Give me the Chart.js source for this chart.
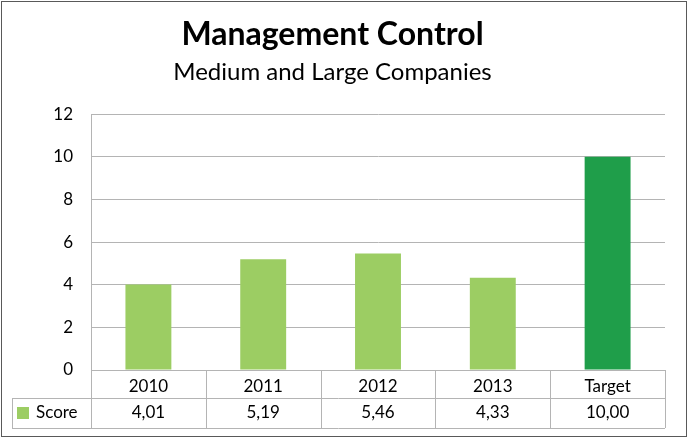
<!DOCTYPE html>
<html>
<head>
<meta charset="utf-8">
<script src="https://cdn.jsdelivr.net/npm/chart.js@4/dist/chart.umd.min.js"></script>
<style>
  html, body { margin: 0; padding: 0; background: #fff; }
  #wrap { width: 689px; height: 438px; }
</style>
</head>
<body>
<div id="wrap"><canvas id="chart" width="689" height="438"></canvas></div>
<script>
// data
const categories = ["2010", "2011", "2012", "2013", "Target"]
const scores = [4.01, 5.19, 5.46, 4.33, 10.00]
const seriesName = "Score"
const yTicks = [0, 2, 4, 6, 8, 10, 12]

const LIGHT = "#9ccd63"
const DARK = "#1f9e4a"
const LINE = "#b4b4b4"
const FONT = "Lato, 'Open Sans', sans-serif"

const barColors = categories.map(c => c === "Target" ? DARK : LIGHT)

// -----------------------------
// data table under the plot + outer frame
// -----------------------------
const tablePlugin = {
  id: "dataTable",
  afterDraw(chart) {
    const ctx = chart.ctx
    const x = chart.scales.x
    const area = chart.chartArea
    const rowTop = area.bottom
    const rowMid = rowTop + 28
    const rowBot = rowTop + 58
    const legendLeft = 12

    const edges = [area.left]
    for (let i = 1; i < categories.length; i++) {
      edges.push((x.getPixelForValue(i - 1) + x.getPixelForValue(i)) / 2)
    }
    edges.push(area.right)

    ctx.save()
    ctx.strokeStyle = LINE
    ctx.lineWidth = 1
    ctx.beginPath()
    // horizontal lines
    ctx.moveTo(area.left, rowTop + 0.5); ctx.lineTo(area.right, rowTop + 0.5)
    ctx.moveTo(legendLeft, rowMid + 0.5); ctx.lineTo(area.right, rowMid + 0.5)
    ctx.moveTo(legendLeft, rowBot + 0.5); ctx.lineTo(area.right, rowBot + 0.5)
    // vertical lines
    edges.forEach(e => {
      const px = Math.round(e) + 0.5
      ctx.moveTo(px, rowTop); ctx.lineTo(px, rowBot)
    })
    ctx.moveTo(legendLeft + 0.5, rowMid); ctx.lineTo(legendLeft + 0.5, rowBot)
    ctx.stroke()

    // legend cell
    ctx.fillStyle = LIGHT
    ctx.fillRect(17, rowMid + 9, 12, 12)
    ctx.fillStyle = "#000"
    ctx.font = "17px " + FONT
    ctx.textBaseline = "middle"
    ctx.textAlign = "left"
    ctx.fillText(seriesName, 36, rowMid + 15)

    // values row
    ctx.textAlign = "center"
    scores.forEach((v, i) => {
      ctx.fillText(v.toFixed(2).replace(".", ","), x.getPixelForValue(i), rowMid + 15)
    })

    // outer frame
    ctx.strokeStyle = "#595959"
    ctx.strokeRect(1.5, 1.5, chart.width - 4, chart.height - 3)
    ctx.restore()
  }
}

new Chart(document.getElementById("chart"), {
  type: "bar",
  data: {
    labels: categories,
    datasets: [{
      label: seriesName,
      data: scores,
      backgroundColor: barColors,
      categoryPercentage: 1,
      barPercentage: 0.4
    }]
  },
  options: {
    responsive: false,
    animation: false,
    layout: { padding: { left: 0, right: 24, top: 0, bottom: 10 } },
    plugins: {
      legend: { display: false },
      tooltip: { enabled: false },
      title: {
        display: true,
        text: "Management Control",
        color: "#000",
        font: { family: FONT, size: 32, weight: "bold" },
        padding: { top: 15, bottom: 4 }
      },
      subtitle: {
        display: true,
        text: "Medium and Large Companies",
        color: "#000",
        font: { family: FONT, size: 24, weight: "normal" },
        padding: { top: 0, bottom: 28 }
      }
    },
    scales: {
      x: {
        grid: { display: false, drawTicks: false },
        border: { display: true, color: LINE },
        ticks: { color: "#000", font: { family: FONT, size: 17 }, padding: 6 },
        afterFit(scale) { scale.height = 58 }
      },
      y: {
        min: 0,
        max: 12,
        afterBuildTicks(scale) { scale.ticks = yTicks.map(v => ({ value: v })) },
        grid: { color: LINE, drawTicks: false },
        border: { display: true, color: LINE },
        ticks: { color: "#000", font: { family: FONT, size: 17 }, padding: 18 },
        afterFit(scale) { scale.width = 91 }
      }
    }
  },
  plugins: [tablePlugin]
})
</script>
</body>
</html>
